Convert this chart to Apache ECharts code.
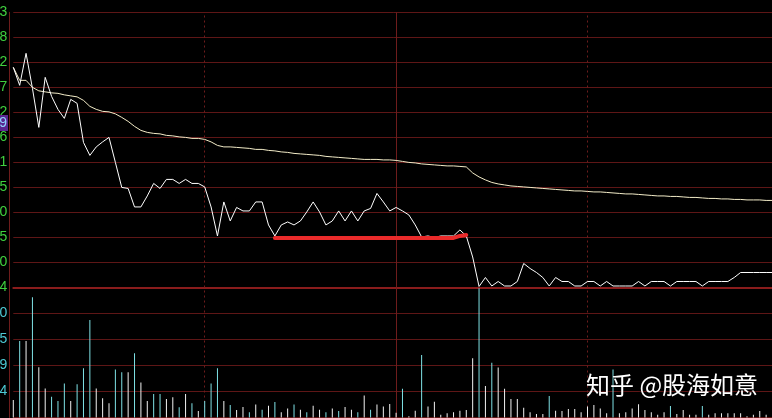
<!DOCTYPE html>
<html>
<head>
<meta charset="utf-8">
<script src="https://cdn.jsdelivr.net/npm/echarts@6/dist/echarts.min.js"></script>
<style>
html,body{margin:0;padding:0;background:#000;}
#chart{width:772px;height:418px;}
</style>
</head>
<body>
<div id="chart"></div>
<script>
// ---- data ----
const priceTickLabels = ['13.04','13.10','13.15','13.20','13.25','13.31','13.36','13.42','13.47','13.52','13.58','13.63'];
const volumeTickLabels = ['0','384','769','1155','1540','1925'];

const price = [
13.490,13.454,13.518,13.448,13.370,13.470,13.432,13.406,13.388,13.426,
13.418,13.340,13.314,13.331,13.341,13.350,13.300,13.250,13.248,13.211,
13.211,13.233,13.258,13.248,13.266,13.266,13.258,13.266,13.258,13.258,
13.251,13.211,13.153,13.221,13.183,13.210,13.203,13.203,13.221,13.221,
13.175,13.153,13.175,13.181,13.175,13.183,13.201,13.221,13.201,13.175,
13.183,13.203,13.183,13.203,13.183,13.203,13.208,13.238,13.221,13.203,
13.210,13.203,13.195,13.175,13.151,13.153,13.150,13.153,13.153,13.153,
13.165,13.153,13.111,13.052,13.070,13.053,13.062,13.053,13.053,13.062,
13.098,13.088,13.080,13.070,13.053,13.070,13.062,13.062,13.053,13.053,
13.062,13.062,13.053,13.062,13.053,13.053,13.053,13.053,13.062,13.053,
13.062,13.062,13.062,13.053,13.062,13.062,13.062,13.062,13.053,13.062,
13.062,13.062,13.062,13.070,13.080,13.080,13.080,13.080,13.080,13.080,
13.080];

const avgPrice = [
13.490,13.464,13.464,13.450,13.443,13.441,13.439,13.438,13.435,13.433,
13.431,13.424,13.412,13.406,13.402,13.401,13.397,13.390,13.382,13.372,
13.364,13.360,13.358,13.357,13.354,13.353,13.351,13.350,13.348,13.348,
13.346,13.341,13.334,13.331,13.331,13.330,13.329,13.328,13.326,13.326,
13.324,13.323,13.321,13.320,13.318,13.317,13.316,13.315,13.314,13.312,
13.311,13.310,13.309,13.308,13.307,13.306,13.306,13.306,13.305,13.305,
13.304,13.302,13.300,13.299,13.297,13.296,13.295,13.294,13.293,13.293,
13.292,13.291,13.279,13.271,13.265,13.260,13.257,13.255,13.253,13.252,
13.251,13.250,13.249,13.248,13.247,13.246,13.245,13.244,13.243,13.243,
13.242,13.241,13.241,13.240,13.239,13.238,13.237,13.237,13.236,13.235,
13.234,13.233,13.233,13.232,13.232,13.231,13.230,13.230,13.229,13.228,
13.228,13.227,13.227,13.226,13.226,13.225,13.225,13.225,13.224,13.224,
13.224];

const volume = [
258,1132,1132,1779,743,431,308,243,504,243,
493,728,1444,431,285,212,712,670,670,951,
520,243,347,347,273,300,150,347,212,96,
243,504,728,243,185,112,154,77,193,116,
173,231,77,135,193,116,77,173,116,77,
135,96,154,116,77,327,116,193,162,200,
69,424,19,100,924,162,235,39,62,77,
100,112,878,1913,466,812,739,424,273,273,
146,77,50,50,320,100,96,127,127,77,
162,185,135,62,712,62,77,135,196,112,
77,39,77,169,50,112,39,39,169,39,
62,62,62,62,62,19,39,96,39,39,
0];

// 'c' = cyan bar, 'w' = white bar
const volumeColorFlag = [
'w','c','w','c','w','w','c','c','c','w',
'c','c','c','w','w','w','c','c','w','c',
'w','w','c','c','w','w','c','w','c','w',
'c','c','c','w','c','w','w','c','w','c',
'w','c','w','w','c','w','c','w','w','c',
'w','c','w','w','c','w','c','w','w','w',
'w','c','w','w','c','w','w','w','w','w',
'w','w','w','c','w','c','w','w','w','w',
'w','w','w','w','c','w','w','w','w','w',
'w','w','w','w','c','w','w','w','w','w',
'w','w','w','c','w','w','w','w','c','w',
'w','w','w','w','w','w','w','w','w','w',
'w'];

// red hand-drawn support line: [category index, price]
const supportLine = [[41,13.149],[69,13.149],[70,13.153],[71,13.155]];

const currentPriceTag = '13.39';
const watermark = '知乎 @股海如意';

// time categories, 2-minute steps
const timeLabels = [];
(function(){
  let m = 9*60+30;
  for (let i=0;i<=60;i++){ timeLabels.push(Math.floor(m/60)+':'+String(m%60).padStart(2,'0')); m+=2; }
  m = 13*60+2;
  for (let i=0;i<60;i++){ timeLabels.push(Math.floor(m/60)+':'+String(m%60).padStart(2,'0')); m+=2; }
})();

const PRICE_MIN = 13.05, PRICE_MAX = 13.60, PRICE_STEP = 0.05;
const VOL_MAX = 1925, VOL_STEP = 385;

const gridColor = '#5e1616';
const vLines = [
  {xAxis: timeLabels[30], lineStyle:{type:[2,3], color:'#6e1c1c', width:1}},
  {xAxis: timeLabels[60], lineStyle:{type:'solid', color:'#6e1c1c', width:1}},
  {xAxis: timeLabels[90], lineStyle:{type:[2,3], color:'#6e1c1c', width:1}}
];

const chart = echarts.init(document.getElementById('chart'), null, {renderer:'canvas'});
chart.setOption({
  backgroundColor:'#000',
  animation:false,
  grid:[
    {left:13.3, width:765.6, top:12.3, height:275.2, containLabel:false, outerBoundsMode:'none'},
    {left:13.3, width:765.6, top:287.5, height:130, containLabel:false, outerBoundsMode:'none'}
  ],
  xAxis:[
    {type:'category', gridIndex:0, data:timeLabels, boundaryGap:false,
     axisLine:{show:true, lineStyle:{color:'#8a1c1c', width:2}}, axisTick:{show:false}, axisLabel:{show:false}, splitLine:{show:false}},
    {type:'category', gridIndex:1, data:timeLabels, boundaryGap:false,
     axisLine:{show:false}, axisTick:{show:false}, axisLabel:{show:false}, splitLine:{show:false}}
  ],
  yAxis:[
    {type:'value', gridIndex:0, min:PRICE_MIN, max:PRICE_MAX, interval:PRICE_STEP, offset:4,
     axisLine:{show:true, lineStyle:{color:'#6e1c1c', width:1}}, axisTick:{show:false},
     axisLabel:{show:true, margin:2, color:'#3fd13f', fontSize:14, fontFamily:'Liberation Sans',
       showMinLabel:true, showMaxLabel:true,
       formatter:function(v){ return priceTickLabels[Math.round((v-PRICE_MIN)/PRICE_STEP)] || ''; }},
     splitLine:{show:true, lineStyle:{color:gridColor, width:1}}},
    {type:'value', gridIndex:1, min:0, max:VOL_MAX, interval:VOL_STEP, offset:4,
     axisLine:{show:true, lineStyle:{color:'#6e1c1c', width:1}}, axisTick:{show:false},
     axisLabel:{show:true, margin:2, color:'#4cc9d4', fontSize:14, fontFamily:'Liberation Sans',
       showMinLabel:false, showMaxLabel:false,
       formatter:function(v){ return volumeTickLabels[Math.round(v/VOL_STEP)] || ''; }},
     splitLine:{show:true, lineStyle:{color:gridColor, width:1}}}
  ],
  series:[
    {type:'line', name:'均价', xAxisIndex:0, yAxisIndex:0, data:avgPrice, showSymbol:false, symbol:'none',
     lineStyle:{color:'#f3ecc8', width:1}, z:3},
    {type:'line', name:'价格', xAxisIndex:0, yAxisIndex:0, data:price, showSymbol:false, symbol:'none',
     lineStyle:{color:'#ffffff', width:1}, z:4,
     markLine:{silent:true, symbol:'none', label:{show:false}, data:vLines, z:1}},
    {type:'line', name:'支撑', xAxisIndex:0, yAxisIndex:0, data:supportLine, showSymbol:false, symbol:'none',
     lineStyle:{color:'#ea2a2a', width:4, cap:'round'}, z:5},
    {type:'bar', name:'成交量', xAxisIndex:1, yAxisIndex:1, data:volume, barWidth:1, barGap:'-100%',
     itemStyle:{color:function(p){ return volumeColorFlag[p.dataIndex]==='c' ? '#7fe2e6' : '#f2f2f2'; }},
     markLine:{silent:true, symbol:'none', label:{show:false}, data:vLines, z:1}}
  ],
  graphic:[
    {type:'text', z:100,
     style:{text:currentPriceTag, x:8, y:123, align:'right', verticalAlign:'middle',
       fill:'#8fd2ff', font:'14px "Liberation Sans"', backgroundColor:'#5a2590', padding:[1,1,1,2]}},
    {type:'text', z:100,
     style:{text:watermark, x:586, y:385, verticalAlign:'middle',
       fill:'#ffffff', font:'24px "Noto Sans CJK SC"', textShadowColor:'rgba(0,0,0,0.8)', textShadowBlur:3}}
  ]
});
</script>
</body>
</html>
